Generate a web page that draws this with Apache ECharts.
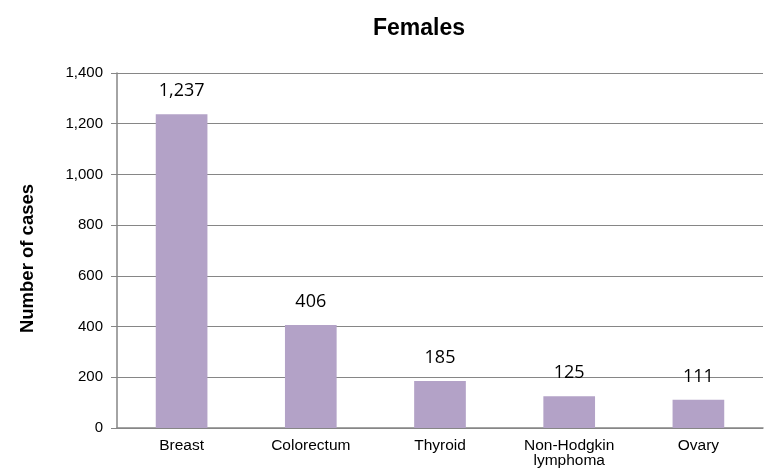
<!DOCTYPE html>
<html>
<head>
<meta charset="utf-8">
<script src="https://cdn.jsdelivr.net/npm/echarts@6/dist/echarts.min.js"></script>
<style>html,body{margin:0;padding:0;background:#fff}#c{width:772px;height:474px}</style>
</head>
<body>
<div id="c"></div>
<script>
const categories = ["Breast", "Colorectum", "Thyroid", "Non-Hodgkin\nlymphoma", "Ovary"];
const cases = [1237, 406, 185, 125, 111];
const yTicks = {min: 0, max: 1400, interval: 200};

const chart = echarts.init(document.getElementById('c'), null, {renderer: 'canvas'});
chart.setOption({
  animation: false,
  backgroundColor: '#fff',
  title: {
    text: 'Females',
    left: 414, top: 12, textAlign: 'center',
    textStyle: {fontFamily: 'Liberation Sans, Arial', fontWeight: 'bold', fontSize: 23, color: '#000'}
  },
  grid: {left: 117, right: 9, top: 73, bottom: 46},
  xAxis: {
    type: 'category',
    data: categories,
    axisLine: {lineStyle: {color: '#868686', width: 1.5}},
    axisTick: {show: false},
    axisLabel: {fontFamily: 'Liberation Sans, Arial', fontSize: 15.5, color: '#000', margin: 10, lineHeight: 15}
  },
  yAxis: {
    type: 'value',
    min: yTicks.min, max: yTicks.max, interval: yTicks.interval,
    name: 'Number of cases',
    nameLocation: 'middle',
    nameGap: 80,
    nameTextStyle: {fontFamily: 'Liberation Sans, Arial', fontWeight: 'bold', fontSize: 18.5, color: '#000', padding: [0, 16, 0, 0]},
    axisLine: {show: true, lineStyle: {color: '#868686', width: 1.5}},
    axisTick: {show: true, length: 6, lineStyle: {color: '#868686'}},
    splitLine: {lineStyle: {color: '#868686', width: 1}},
    axisLabel: {
      fontFamily: 'Liberation Sans, Arial', fontSize: 15, color: '#000', margin: 14,
      formatter: v => v.toLocaleString('en-US')
    }
  },
  series: [{
    type: 'bar',
    data: cases,
    barWidth: '40%',
    itemStyle: {color: '#B3A2C7'},
    label: {
      show: true, position: 'top', distance: 14,
      fontFamily: 'Open Sans, sans-serif', fontSize: 18, color: '#000',
      formatter: p => p.value.toLocaleString('en-US')
    }
  }]
});
</script>
</body>
</html>
